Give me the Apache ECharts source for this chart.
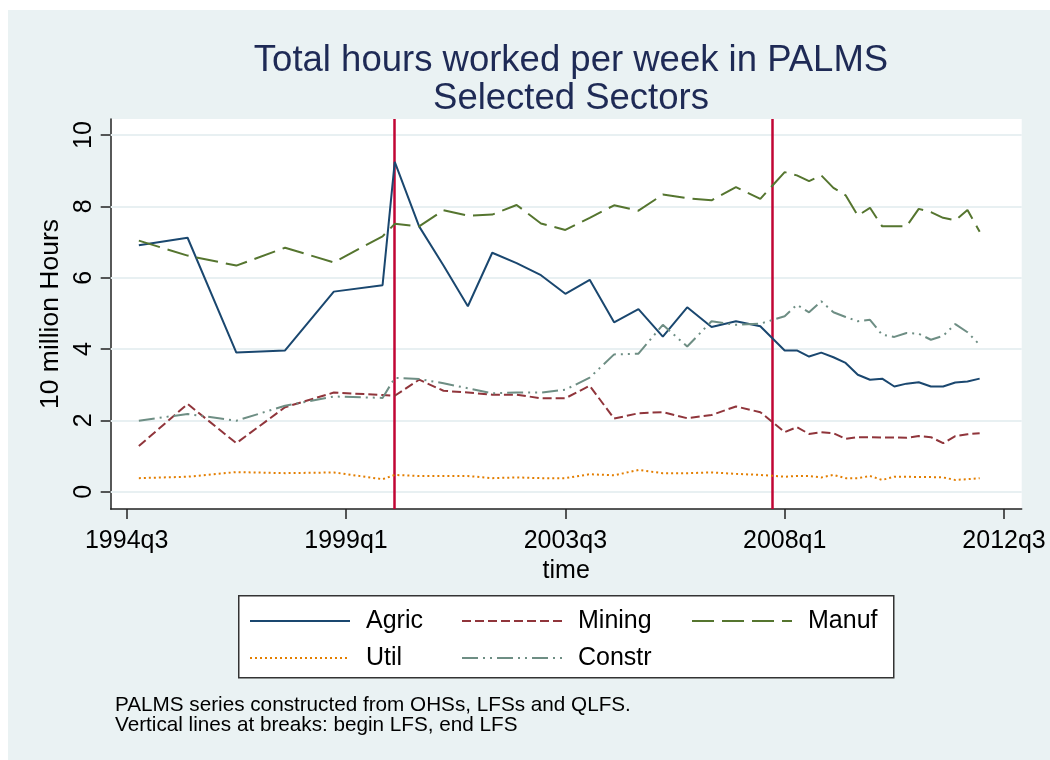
<!DOCTYPE html>
<html>
<head>
<meta charset="utf-8">
<script src="https://cdn.jsdelivr.net/npm/echarts@6/dist/echarts.min.js"></script>
<style>
  html, body { margin: 0; padding: 0; background: #fff; }
  #chart { width: 1050px; height: 760px; }
</style>
</head>
<body>
<div id="chart"></div>
<script>
// survey periods (OHS annual, LFS half-yearly, QLFS quarterly)
let periods = ['1994q4', '1995q4', '1996q4', '1997q4', '1998q4', '1999q4',
  '2000q1', '2000q3', '2001q1', '2001q3', '2002q1', '2002q3', '2003q1', '2003q3',
  '2004q1', '2004q3', '2005q1', '2005q3', '2006q1', '2006q3', '2007q1', '2007q3',
  '2008q1', '2008q2', '2008q3', '2008q4', '2009q1', '2009q2', '2009q3', '2009q4',
  '2010q1', '2010q2', '2010q3', '2010q4', '2011q1', '2011q2', '2011q3', '2011q4', '2012q1'];

// 10 million hours
let agric = [6.91, 7.12, 3.90, 3.96, 5.61, 5.79, 9.25, 7.44, 6.34, 5.20, 6.70, 6.41, 6.07, 5.55,
  5.94, 4.75, 5.12, 4.35, 5.17, 4.62, 4.78, 4.64, 3.96, 3.96, 3.79, 3.90, 3.77, 3.61, 3.28,
  3.14, 3.17, 2.95, 3.03, 3.07, 2.95, 2.95, 3.06, 3.09, 3.17];
let mining = [1.28, 2.46, 1.36, 2.37, 2.78, 2.71, 2.69, 3.14, 2.83, 2.78, 2.72, 2.72, 2.62, 2.62,
  2.97, 2.05, 2.20, 2.23, 2.06, 2.15, 2.39, 2.23, 1.67, 1.81, 1.62, 1.67, 1.64, 1.48, 1.53,
  1.53, 1.52, 1.52, 1.51, 1.56, 1.53, 1.36, 1.56, 1.61, 1.64];
let manuf = [7.04, 6.62, 6.34, 6.84, 6.43, 7.16, 7.51, 7.44, 7.89, 7.74, 7.77, 8.04, 7.52, 7.34,
  7.68, 8.03, 7.88, 8.33, 8.23, 8.17, 8.54, 8.21, 8.96, 8.87, 8.71, 8.87, 8.52, 8.31, 7.74,
  7.96, 7.44, 7.44, 7.44, 7.93, 7.84, 7.68, 7.61, 7.90, 7.29];
let util = [0.38, 0.42, 0.55, 0.52, 0.54, 0.35, 0.47, 0.44, 0.44, 0.44, 0.38, 0.40, 0.38, 0.38,
  0.49, 0.46, 0.61, 0.52, 0.52, 0.54, 0.50, 0.47, 0.42, 0.44, 0.44, 0.40, 0.47, 0.38, 0.38,
  0.44, 0.33, 0.42, 0.42, 0.41, 0.41, 0.40, 0.33, 0.35, 0.38];
let constr = [1.99, 2.18, 1.99, 2.41, 2.67, 2.63, 3.19, 3.16, 3.04, 2.90, 2.76, 2.78, 2.78, 2.86,
  3.20, 3.85, 3.87, 4.68, 4.07, 4.78, 4.68, 4.71, 4.92, 5.24, 5.03, 5.34, 5.03, 4.90, 4.78,
  4.82, 4.40, 4.34, 4.45, 4.43, 4.26, 4.37, 4.70, 4.47, 4.12];

let xTicks = ['1994q3', '1999q1', '2003q3', '2008q1', '2012q3'];
let yTicks = [0, 2, 4, 6, 8, 10];
let breaks = ['2000q1', '2007q4'];

let seriesNames = ['Agric', 'Mining', 'Manuf', 'Util', 'Constr'];
let seriesData = [agric, mining, manuf, util, constr];
let colors = ['#1A476F', '#90353B', '#55752F', '#E37E00', '#6E8E84'];
let dashes = ['solid', [9, 4], [22, 8], [2, 3], [16, 5, 2, 5, 2, 5]];

// quarters counted from 1994q3
function qIndex(s) {
  return (+s.slice(0, 4) - 1994) * 4 + (+s.slice(5)) - 3;
}
function qLabel(v) {
  let n = Math.round(v) + 2;
  return (1994 + Math.floor(n / 4)) + 'q' + (n % 4 + 1);
}

let font = 'Liberation Sans, Arial, Helvetica, sans-serif';
let chart = echarts.init(document.getElementById('chart'), null, { renderer: 'canvas' });

let series = seriesNames.map(function (name, i) {
  return {
    name: name,
    type: 'line',
    symbol: 'none',
    z: 5 + i,
    lineStyle: { color: colors[i], width: 2, type: dashes[i] },
    itemStyle: { color: colors[i] },
    data: periods.map(function (p, k) { return [qIndex(p), seriesData[i][k]]; })
  };
});

// grid lines
series.push({
  type: 'line',
  data: [],
  z: 1,
  markLine: {
    silent: true,
    symbol: 'none',
    label: { show: false },
    lineStyle: { color: '#E8F0F2', width: 2, type: 'solid' },
    data: yTicks.map(function (v) { return { yAxis: v }; })
  }
});
// breaks between surveys
series.push({
  type: 'line',
  data: [],
  z: 3,
  markLine: {
    silent: true,
    symbol: 'none',
    label: { show: false },
    lineStyle: { color: '#C10534', width: 2.5, type: 'solid' },
    data: breaks.map(function (b) { return { xAxis: qIndex(b) }; })
  }
});

let legendCommon = {
  orient: 'vertical',
  top: 608,
  padding: 0,
  itemWidth: 100,
  itemHeight: 14,
  itemGap: 11,
  selectedMode: false,
  itemStyle: { opacity: 0, color: 'rgba(0,0,0,0)', borderColor: 'rgba(0,0,0,0)', borderWidth: 0 },
  textStyle: { fontFamily: font, fontSize: 25, color: '#000', lineHeight: 26, padding: [0, 0, 0, 11] }
};

option = {
  animation: false,
  textStyle: { fontFamily: font },
  title: [
    {
      text: 'Total hours worked per week in PALMS\nSelected Sectors',
      left: 566,
      top: 37,
      textAlign: 'center',
      textStyle: { fontFamily: font, fontSize: 36.5, fontWeight: 'normal', color: '#1E2A55', lineHeight: 38 }
    },
    {
      text: 'PALMS series constructed from OHSs, LFSs and QLFS.\nVertical lines at breaks: begin LFS, end LFS',
      left: 115,
      top: 695,
      padding: 0,
      textStyle: { fontFamily: font, fontSize: 20.7, fontWeight: 'normal', color: '#000', lineHeight: 20.5 }
    }
  ],
  graphic: [
    { type: 'rect', left: 8, top: 10, z: -10, shape: { width: 1042, height: 750 }, style: { fill: '#EAF2F3' } },
    { type: 'rect', left: 238, top: 595, z: 1, shape: { width: 655, height: 82 },
      style: { fill: '#fff', stroke: '#333', lineWidth: 1.5 } }
  ],
  legend: [
    Object.assign({}, legendCommon, { left: 249, data: ['Agric', 'Util'] }),
    Object.assign({}, legendCommon, { left: 461, data: ['Mining', 'Constr'] }),
    Object.assign({}, legendCommon, { left: 691, data: ['Manuf'] })
  ],
  grid: {
    left: 110.7,
    right: 28.3,
    top: 119,
    bottom: 251,
    show: true,
    backgroundColor: '#fff',
    borderWidth: 0
  },
  xAxis: {
    type: 'value',
    min: -1.31,
    max: 73.45,
    name: 'time',
    nameLocation: 'middle',
    nameGap: 44,
    nameTextStyle: { fontFamily: font, fontSize: 25, color: '#000' },
    axisLine: { show: true, onZero: false, lineStyle: { color: '#222', width: 1.5 } },
    axisTick: { show: true, length: 10, customValues: xTicks.map(qIndex), lineStyle: { color: '#222', width: 1.5 } },
    axisLabel: {
      customValues: xTicks.map(qIndex),
      margin: 20,
      fontFamily: font,
      fontSize: 25,
      color: '#000',
      formatter: qLabel
    },
    splitLine: { show: false }
  },
  yAxis: {
    type: 'value',
    min: -0.485,
    max: 10.45,
    name: '10 million Hours',
    nameLocation: 'middle',
    nameGap: 40,
    nameTextStyle: { fontFamily: font, fontSize: 26.5, color: '#000' },
    axisLine: { show: true, onZero: false, lineStyle: { color: '#222', width: 1.5 } },
    axisTick: { show: true, length: 10, customValues: yTicks, lineStyle: { color: '#222', width: 1.5 } },
    axisLabel: {
      customValues: yTicks,
      rotate: 90,
      margin: 14,
      fontFamily: font,
      fontSize: 25,
      color: '#000'
    },
    splitLine: { show: false }
  },
  series: series
};

chart.setOption(option);
</script>
</body>
</html>
